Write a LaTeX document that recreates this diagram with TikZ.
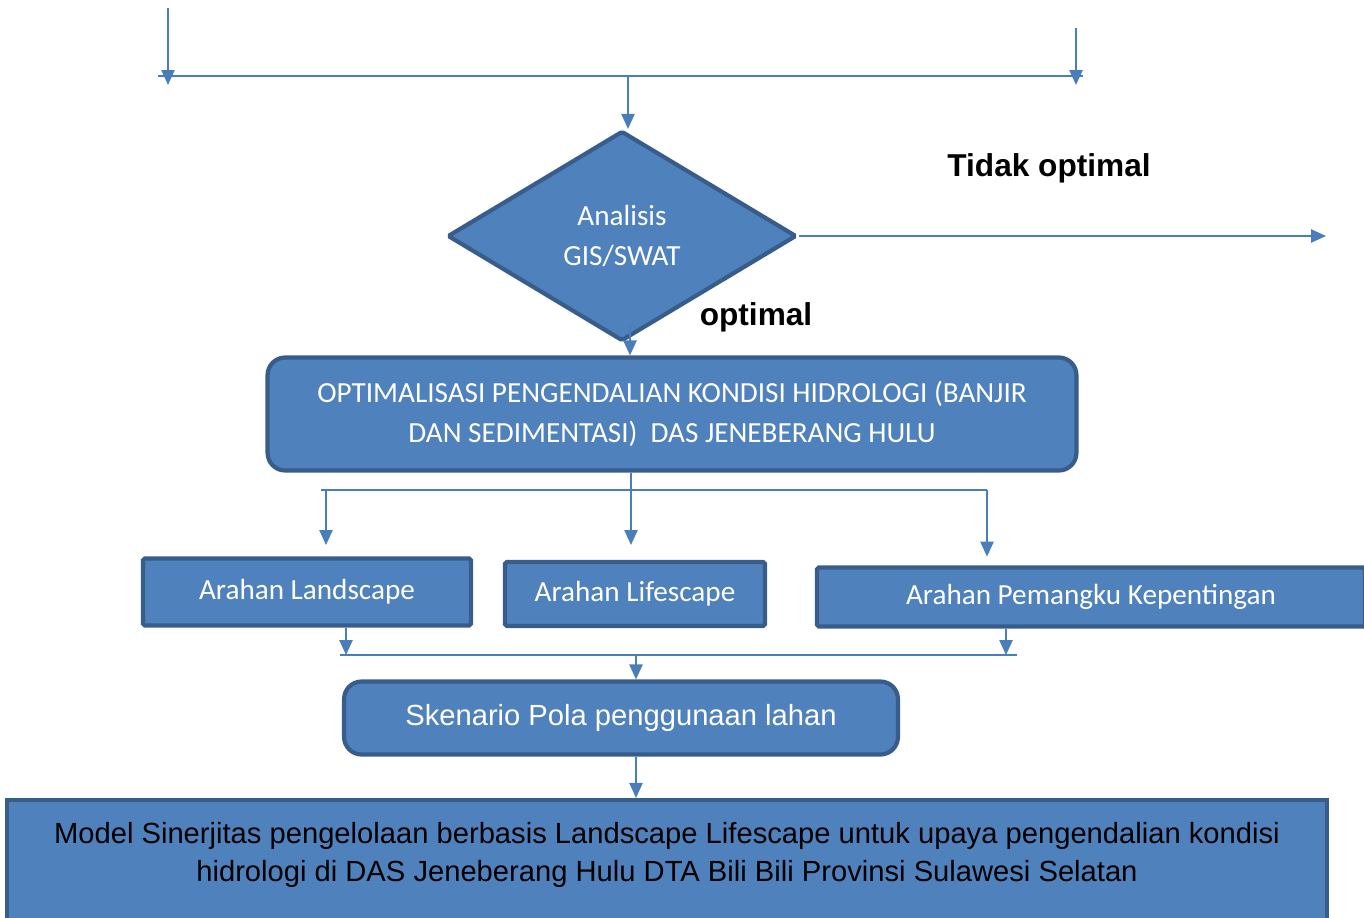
\documentclass[tikz,border=0pt]{standalone}
\usepackage{fontspec}
\setmainfont{Carlito}
\newfontfamily\arialfont{Liberation Sans}
\usetikzlibrary{arrows.meta,shapes.geometric}
\definecolor{boxfill}{HTML}{4F81BD}
\definecolor{boxline}{HTML}{385D8A}
\definecolor{linkcol}{HTML}{4A7EBB}

\begin{document}
\begin{tikzpicture}[x=0.02cm,y=-0.02cm,
  box/.style={draw=boxline,fill=boxfill,line width=2.4pt,text=white,
    font=\fontsize{16.6}{23}\selectfont,inner sep=0pt,rounded corners=1pt},
  rbox/.style={box,rounded corners=10pt},
  conn/.style={draw=linkcol,line width=1pt},
  arr/.style={conn,-{Triangle[length=8.5pt,width=7.5pt]}},
  lbl/.style={font=\arialfont\bfseries\fontsize{18}{21}\selectfont}]
\useasboundingbox (0,0) rectangle (1364,918);

% Feed lines at the top
\coordinate (inl) at (168,8);
\coordinate (inlend) at (168,85);
\coordinate (inr) at (1076,28);
\coordinate (inrend) at (1076,85);
\coordinate (topl) at (158,76);
\coordinate (topr) at (1083,76);
\coordinate (tophub) at (628,76);

% Decision
\node[box,diamond,minimum width=6.98cm,minimum height=4.2cm,align=center] (ana) at (622,236) {Analisis\\GIS/SWAT};
\node[lbl] (notoptlbl) at (1049,168) {Tidak optimal};
\node[lbl] (optlbl) at (756,317) {optimal};
\coordinate (notopt) at (1326,236);
\coordinate (optin) at (630,325);

% Optimisation box
\node[rbox,minimum width=16.18cm,minimum height=2.26cm,align=center] (opt) at (672,414)
  {OPTIMALISASI PENGENDALIAN KONDISI HIDROLOGI (BANJIR\\DAN SEDIMENTASI)\ \ DAS JENEBERANG HULU};

% Arahan boxes
\node[box,minimum width=6.56cm,minimum height=1.34cm] (land) at (307,592) {Arahan Landscape};
\node[box,minimum width=5.2cm,minimum height=1.28cm] (life) at (635,594) {Arahan Lifescape};
\node[box,minimum width=10.96cm,minimum height=1.18cm] (pem) at (1091,597) {Arahan Pemangku Kepentingan};

% Scenario and model
\node[rbox,font=\arialfont\fontsize{16.6}{19}\selectfont,minimum width=11.08cm,minimum height=1.46cm] (sken) at (621,718)
  {Skenario Pola penggunaan lahan};
\node[box,rounded corners=0pt,text=black,font=\arialfont\fontsize{16.6}{22}\selectfont,
  minimum width=26.4cm,minimum height=2.84cm,align=center] (model) at (667,871)
  {Model Sinerjitas pengelolaan berbasis Landscape Lifescape untuk upaya pengendalian kondisi\\
   hidrologi di DAS Jeneberang Hulu DTA Bili Bili Provinsi Sulawesi Selatan\\[-7pt]\strut};

% Branch points
\coordinate (brl0) at (321,490);
\coordinate (brl) at (326,490);
\coordinate (brm) at (631,490);
\coordinate (brr) at (987,490);
\coordinate (mgl0) at (340,655);
\coordinate (mgl) at (346,655);
\coordinate (mgm) at (636,655);
\coordinate (mgr) at (1006,655);
\coordinate (mgr0) at (1017,655);

% Connectors
\draw[arr] (inl) -- (inlend);
\draw[arr] (inr) -- (inrend);
\draw[conn] (topl) -- (topr);
\draw[arr] (tophub) -- (tophub |- ana.north);
\draw[arr] (ana.east) -- (notopt);
\draw[arr] (optin) -- (optin |- opt.north);
\draw[conn] (opt.south -| brm) -- (brm);
\draw[conn] (brl0) -- (brr);
\draw[arr,shorten >=6.5pt] (brl) -- (brl |- land.north);
\draw[arr,shorten >=8.5pt] (brm) -- (brm |- life.north);
\draw[arr,shorten >=5pt] (brr) -- (brr |- pem.north);
\draw[arr] (land.south -| mgl) -- (mgl);
\draw[arr] (pem.south -| mgr) -- (mgr);
\draw[conn] (mgl0) -- (mgr0);
\draw[arr] (mgm) -- (mgm |- sken.north);
\draw[arr] (sken.south -| mgm) -- (mgm |- model.north);
\end{tikzpicture}
\end{document}
